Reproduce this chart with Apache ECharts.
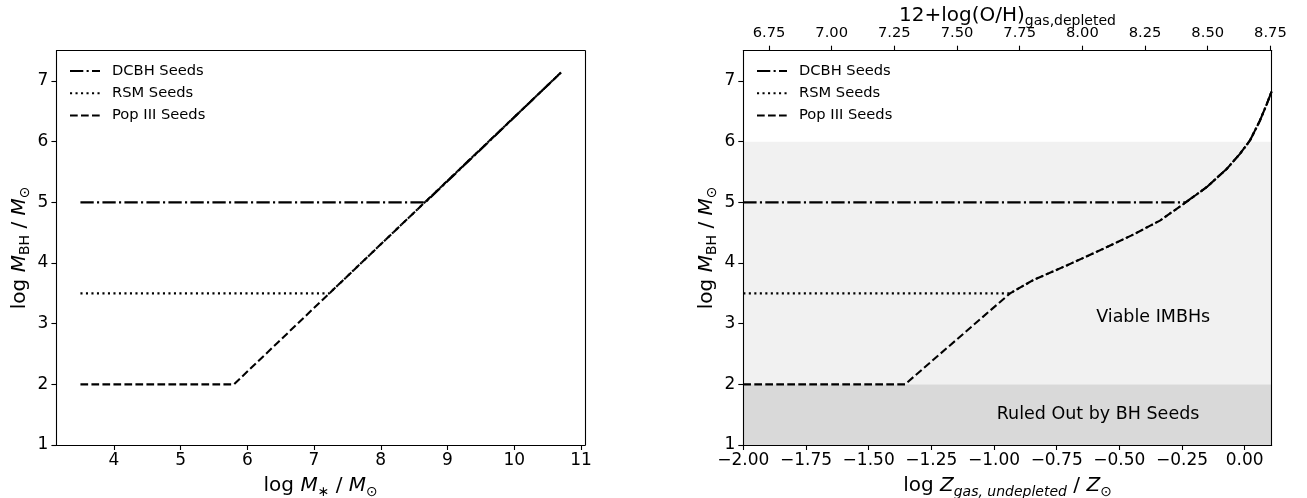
<!DOCTYPE html>
<html><head><meta charset="utf-8">
<script src="https://cdn.jsdelivr.net/npm/echarts@6/dist/echarts.min.js"></script>
<style>html,body{margin:0;padding:0;background:#fff}#c{width:1307px;height:498px}</style>
</head><body><div id="c"></div>
<script>
// ---------- data ----------
const leftXTicks = [4, 5, 6, 7, 8, 9, 10, 11];
const yTicks = [1, 2, 3, 4, 5, 6, 7];
const rightXTicks = [-2, -1.75, -1.5, -1.25, -1, -0.75, -0.5, -0.25, 0];
const topTicks = [6.75, 7.0, 7.25, 7.5, 7.75, 8.0, 8.25, 8.5, 8.75];
const seedNames = ['DCBH Seeds', 'RSM Seeds', 'Pop III Seeds'];
const seedLevels = [5, 3.5, 2];

// left panel: log M* vs log M_BH
const leftStartX = 3.5;
const leftEnd = [10.7, 7.14];          // end of the scaling relation
const leftKneeX = [8.67, 7.23, 5.8];   // where each seed floor meets the relation

// right panel: log Z vs log M_BH
const rightStartX = -2.0;
const rightKneeX = [-0.236, -0.936, -1.355]; // where each seed floor leaves its flat part
const curveX = [-0.936, -0.843, -0.71, -0.577, -0.444, -0.338, -0.238, -0.152, -0.072, -0.019, 0.021, 0.061, 0.088, 0.1077];
const curveY = [3.5, 3.72, 3.96, 4.21, 4.47, 4.70, 4.99, 5.25, 5.55, 5.80, 6.02, 6.35, 6.62, 6.83];
const rightMaxX = 0.1077;
const topMin = 6.6475, topMax = 8.7552;

const ruledOutBand = [1, 2];
const viableBand = [2, 6];
const annotations = [
  {text: 'Viable IMBHs', x: -0.365, y: 3.11},
  {text: 'Ruled Out by BH Seeds', x: -0.585, y: 1.5}
];

// ---------- build ----------
const F = 'DejaVu Sans';
const dashStyles = [[13.3, 3.3, 2.1, 3.3], [2.1, 3.4], [7.7, 3.3]];
const LW = 2.08;

function leftLine(i) {
  return [[leftStartX, seedLevels[i]], [leftKneeX[i], seedLevels[i]], leftEnd];
}
function rightLine(i) {
  const pts = [[rightStartX, seedLevels[i]], [rightKneeX[i], seedLevels[i]]];
  for (let k = 0; k < curveX.length; k++) {
    if (curveX[k] > rightKneeX[i] + 1e-9) pts.push([curveX[k], curveY[k]]);
  }
  return pts;
}

const nameRich = {
  n: {fontFamily: F, fontSize: 20, color: '#000', lineHeight: 26},
  i: {fontFamily: F, fontSize: 20, fontStyle: 'italic', color: '#000', lineHeight: 26},
  s: {fontFamily: F, fontSize: 14, color: '#000', lineHeight: 14, verticalAlign: 'bottom'},
  si: {fontFamily: F, fontSize: 14, fontStyle: 'italic', color: '#000', lineHeight: 14, verticalAlign: 'bottom'}
};
const yName = '{n|log }{i|M}{s|BH}{n| / }{i|M}{s|⊙}';

function boxAxis(extra) {
  return Object.assign({type: 'value', z: 10,
    axisLine: {show: true, onZero: false, lineStyle: {color: '#000', width: 1.1}},
    axisTick: {show: false}, axisLabel: {show: false}, splitLine: {show: false}}, extra);
}
const tickStyle = {show: true, length: 5, lineStyle: {color: '#000', width: 1.1}};
const minus = v => String(v).replace('-', '\u2212');

const series = [];
for (let i = 0; i < 3; i++) {
  series.push({type: 'line', name: seedNames[i], xAxisIndex: 0, yAxisIndex: 0, data: leftLine(i),
    symbol: 'none', z: 3, animation: false, itemStyle: {color: '#000'},
    lineStyle: {color: '#000', width: LW, type: dashStyles[i]}});
}
series.push({type: 'line', data: [], xAxisIndex: 2, yAxisIndex: 2, z: 1, silent: true, animation: false,
  markArea: {silent: true, data: [
    [{coord: [rightStartX, ruledOutBand[0]], itemStyle: {color: '#d9d9d9'}}, {coord: [rightMaxX, ruledOutBand[1]]}],
    [{coord: [rightStartX, viableBand[0]], itemStyle: {color: '#f1f1f1'}}, {coord: [rightMaxX, viableBand[1]]}]
  ]},
  markPoint: {silent: true, symbol: 'circle', symbolSize: 0,
    data: annotations.map(a => ({coord: [a.x, a.y], label: {show: true, position: 'inside', formatter: a.text,
      color: '#000', fontFamily: F, fontSize: 17.5}}))}
});
for (let i = 0; i < 3; i++) {
  series.push({type: 'line', name: seedNames[i], xAxisIndex: 2, yAxisIndex: 2, data: rightLine(i),
    symbol: 'none', z: 3, animation: false, itemStyle: {color: '#000'},
    lineStyle: {color: '#000', width: LW, type: dashStyles[i]}});
}

const legendBase = {orient: 'vertical', data: seedNames, itemWidth: 30, itemHeight: 14, itemGap: 7.3,
  itemStyle: {opacity: 0}, selectedMode: false,
  textStyle: {fontFamily: F, fontSize: 14.7, color: '#000', padding: [0, 0, 0, 7]}};

const option = {
  animation: false,
  backgroundColor: '#fff',
  grid: [
    {left: 56.4, right: 1307 - 585, top: 50.7, bottom: 498 - 445, outerBoundsMode: 'none', containLabel: false},
    {left: 743.3, right: 1307 - 1271.7, top: 50.7, bottom: 498 - 445, outerBoundsMode: 'none', containLabel: false}
  ],
  legend: [
    Object.assign({left: 64, top: 58.5}, legendBase),
    Object.assign({left: 751, top: 58.5}, legendBase)
  ],
  xAxis: [
    {type: 'value', gridIndex: 0, min: 3.14, max: 11.06, z: 10,
      axisLine: {show: true, onZero: false, lineStyle: {color: '#000', width: 1.1}},
      axisTick: Object.assign({customValues: leftXTicks}, tickStyle),
      axisLabel: {customValues: leftXTicks, color: '#000', fontFamily: F, fontSize: 17, margin: 7.5},
      splitLine: {show: false},
      name: '{n|log }{i|M}{s|∗}{n| / }{i|M}{s|⊙}', nameLocation: 'middle', nameGap: 28,
      nameTextStyle: {rich: nameRich}},
    boxAxis({gridIndex: 0, position: 'top', min: 3.14, max: 11.06}),
    {type: 'value', gridIndex: 1, min: rightStartX, max: rightMaxX, z: 10,
      axisLine: {show: true, onZero: false, lineStyle: {color: '#000', width: 1.1}},
      axisTick: Object.assign({customValues: rightXTicks}, tickStyle),
      axisLabel: {customValues: rightXTicks, color: '#000', fontFamily: F, fontSize: 17, margin: 7.5,
        formatter: v => minus(v.toFixed(2))},
      splitLine: {show: false},
      name: '{n|log }{i|Z}{si|gas, undepleted}{n| / }{i|Z}{s|⊙}', nameLocation: 'middle', nameGap: 28,
      nameTextStyle: {rich: nameRich}},
    {type: 'value', gridIndex: 1, position: 'top', min: topMin, max: topMax, z: 10,
      axisLine: {show: true, onZero: false, lineStyle: {color: '#000', width: 1.1}},
      axisTick: Object.assign({customValues: topTicks}, tickStyle),
      axisLabel: {customValues: topTicks, color: '#000', fontFamily: F, fontSize: 14.7, margin: 10,
        formatter: v => v.toFixed(2)},
      splitLine: {show: false},
      name: '{n|12+log(O/H)}{s|gas,depleted}', nameLocation: 'middle', nameGap: 22, nameMoveOverlap: false,
      nameTextStyle: {rich: nameRich}}
  ],
  yAxis: [
    {type: 'value', gridIndex: 0, min: 1, max: 7.5, z: 10,
      axisLine: {show: true, onZero: false, lineStyle: {color: '#000', width: 1.1}},
      axisTick: Object.assign({customValues: yTicks}, tickStyle),
      axisLabel: {customValues: yTicks, color: '#000', fontFamily: F, fontSize: 17, margin: 8},
      splitLine: {show: false},
      name: yName, nameLocation: 'middle', nameGap: 24, nameTextStyle: {rich: nameRich}},
    boxAxis({gridIndex: 0, position: 'right', min: 1, max: 7.5}),
    {type: 'value', gridIndex: 1, min: 1, max: 7.5, z: 10,
      axisLine: {show: true, onZero: false, lineStyle: {color: '#000', width: 1.1}},
      axisTick: Object.assign({customValues: yTicks}, tickStyle),
      axisLabel: {customValues: yTicks, color: '#000', fontFamily: F, fontSize: 17, margin: 8},
      splitLine: {show: false},
      name: yName, nameLocation: 'middle', nameGap: 24, nameTextStyle: {rich: nameRich}},
    boxAxis({gridIndex: 1, position: 'right', min: 1, max: 7.5})
  ],
  series: series
};
const chart = echarts.init(document.getElementById('c'), null, {renderer: 'canvas'});
chart.setOption(option);
</script></body></html>
